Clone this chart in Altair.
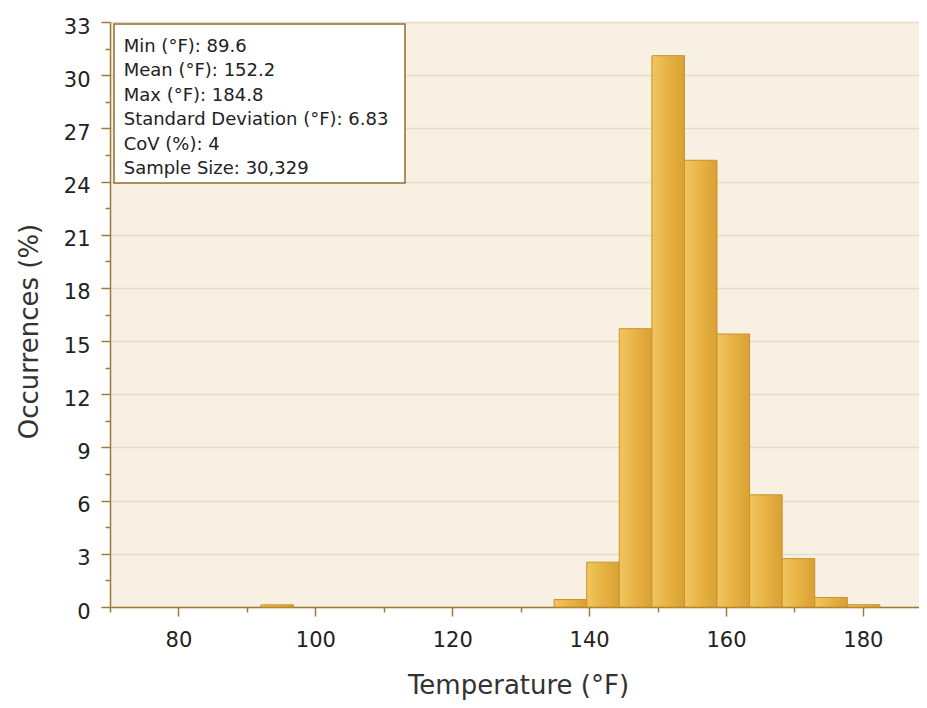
import altair as alt
import pandas as pd

# ---- data ----
bin_start = [92.05, 134.89, 139.65, 144.41, 149.17, 153.93, 158.69, 163.45, 168.21, 172.97, 177.73]
bin_end = [96.81, 139.65, 144.41, 149.17, 153.93, 158.69, 163.45, 168.21, 172.97, 177.73, 182.49]
occurrences = [0.12, 0.42, 2.53, 15.7, 31.1, 25.2, 15.4, 6.33, 2.73, 0.54, 0.13]

stats_lines = [
    "Min (°F): 89.6",
    "Mean (°F): 152.2",
    "Max (°F): 184.8",
    "Standard Deviation (°F): 6.83",
    "CoV (%): 4",
    "Sample Size: 30,329",
]

x_ticks = [70, 80, 90, 100, 110, 120, 130, 140, 150, 160, 170, 180]
y_ticks = [0, 1.5, 3, 4.5, 6, 7.5, 9, 10.5, 12, 13.5, 15, 16.5, 18, 19.5,
           21, 22.5, 24, 25.5, 27, 28.5, 30, 31.5, 33]

df = pd.DataFrame({"start": bin_start, "end": bin_end, "occ": occurrences})
one = pd.DataFrame({"k": [0]})

AX = "#9c7a3a"
FONT = "DejaVu Sans"

bar_fill = alt.Gradient(
    gradient="linear",
    stops=[
        alt.GradientStop(color="#f1c660", offset=0),
        alt.GradientStop(color="#e8b446", offset=0.45),
        alt.GradientStop(color="#daa034", offset=1),
    ],
    x1=0, x2=1, y1=0, y2=0,
)

bars = alt.Chart(df).mark_rect(
    fill=bar_fill, stroke="#c8942c", strokeWidth=1
).encode(
    x=alt.X(
        "start:Q",
        scale=alt.Scale(domain=[70, 188.2], nice=False, zero=False),
        axis=alt.Axis(
            values=x_ticks,
            title="Temperature (°F)",
            labelExpr="datum.value % 20 === 0 ? datum.label : ''",
            tickSize={"condition": {"test": "datum.value % 20 === 0", "value": 9}, "value": 5},
            grid=False,
            labelOverlap=False,
            labelPadding=13,
            titleX=408,
            titleY=86,
            titleBaseline="alphabetic",
        ),
    ),
    x2="end:Q",
    y=alt.Y(
        "occ:Q",
        scale=alt.Scale(domain=[0, 33], nice=False),
        axis=alt.Axis(
            values=y_ticks,
            title="Occurrences (%)",
            labelExpr="datum.value % 3 === 0 ? datum.label : ''",
            tickSize={"condition": {"test": "datum.value % 3 === 0", "value": 9}, "value": 5},
            gridOpacity={"condition": {"test": "datum.value % 3 === 0", "value": 1}, "value": 0},
            gridColor="#e6dbc5",
            gridWidth=1.5,
            labelOverlap=False,
            labelPadding=11,
            labelOffset=5,
            titleX=-73,
            titleY=309,
            titleBaseline="alphabetic",
        ),
    ),
    y2=alt.datum(0),
)

box = alt.Chart(one).mark_rect(
    fill="white", stroke="#8f6f2e", strokeWidth=1.5
).encode(
    x=alt.value(4), x2=alt.value(295), y=alt.value(2), y2=alt.value(161)
)

txt = alt.Chart(one).mark_text(
    text=stats_lines, align="left", baseline="alphabetic",
    lineHeight=24.4, font=FONT, fontSize=18, color="#222222"
).encode(x=alt.value(13.7), y=alt.value(30))

chart = alt.layer(bars, box, txt).properties(
    width=809,
    height=585,
    padding={"left": 102, "top": 14, "right": 0, "bottom": 93},
    autosize=alt.AutoSizeParams(type="none"),
    background="white",
).configure_view(
    fill="#f7f0e3", stroke="transparent"
).configure_axis(
    domainColor=AX, domainWidth=1.5, tickColor=AX, tickWidth=1.5,
    labelFont=FONT, labelFontSize=21, labelColor="#222222",
    titleFont=FONT, titleFontSize=26, titleFontWeight="normal", titleColor="#333333",
)

chart.save("out.html", embed_options={"renderer": "svg", "actions": False})
